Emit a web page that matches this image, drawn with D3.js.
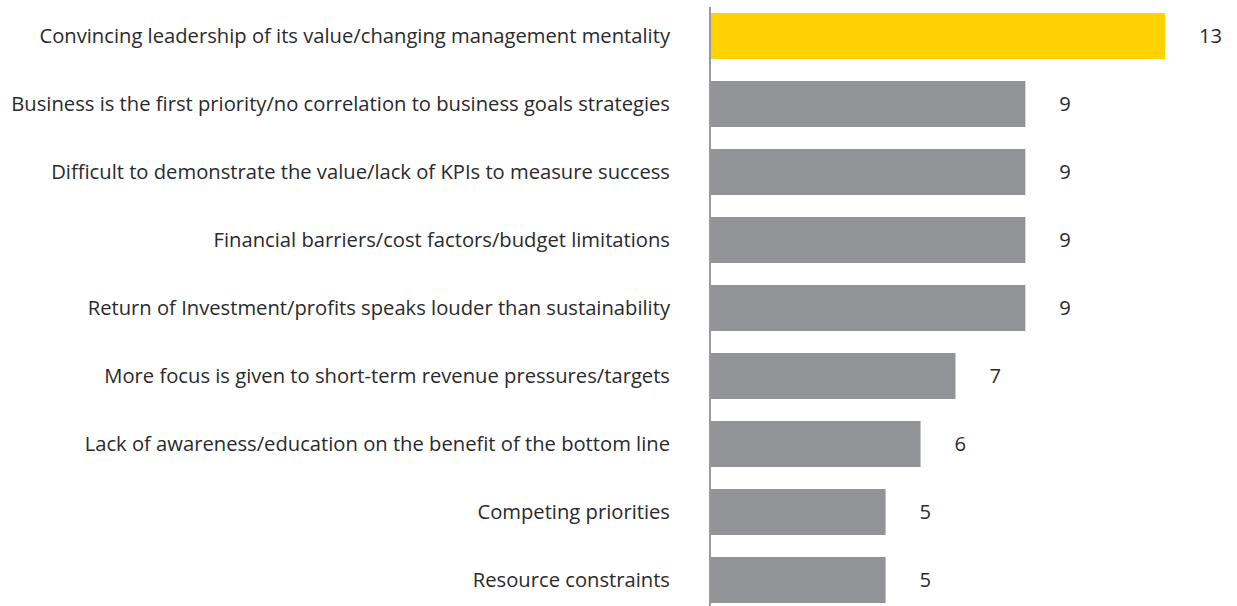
<!DOCTYPE html>
<html><head><meta charset="utf-8">
<script src="https://cdn.jsdelivr.net/npm/d3@7"></script>
<style>body{margin:0;background:#fff;} svg{display:block;}</style>
</head><body>
<svg id="chart" width="1237" height="606"></svg>
<script>
const categories = [
  "Convincing leadership of its value/changing management mentality",
  "Business is the first priority/no correlation to business goals strategies",
  "Difficult to demonstrate the value/lack of KPIs to measure success",
  "Financial barriers/cost factors/budget limitations",
  "Return of Investment/profits speaks louder than sustainability",
  "More focus is given to short-term revenue pressures/targets",
  "Lack of awareness/education on the benefit of the bottom line",
  "Competing priorities",
  "Resource constraints"
];
const values = [13, 9, 9, 9, 9, 7, 6, 5, 5];
const highlight = [true, false, false, false, false, false, false, false, false];

const svg = d3.select("#chart");
const x = d3.scaleLinear().domain([0, 13]).range([711, 1165]);
const y = d3.scaleBand().domain(categories).range([2, 614]).paddingInner(0.3235).paddingOuter(0.16175);
const font = "'Open Sans', sans-serif";

svg.selectAll("rect.bar").data(categories).join("rect")
  .attr("class","bar")
  .attr("x", x(0))
  .attr("y", d => y(d))
  .attr("width", (d,i) => x(values[i]) - x(0))
  .attr("height", y.bandwidth())
  .attr("fill", (d,i) => highlight[i] ? "#FFD200" : "#919396");

svg.append("line").attr("x1",710).attr("x2",710).attr("y1",7).attr("y2",606)
  .attr("stroke","#9a9a9a").attr("stroke-width",2);

svg.selectAll("text.cat").data(categories).join("text")
  .attr("class","cat")
  .attr("x", 670)
  .attr("y", d => y(d) + y.bandwidth()/2)
  .attr("dy","0.35em")
  .attr("text-anchor","end")
  .attr("font-family", font)
  .attr("font-size", 20.2)
  .attr("fill","#2a2a2e")
  .text(d => d);

svg.selectAll("text.val").data(categories).join("text")
  .attr("class","val")
  .attr("x", (d,i) => x(values[i]) + 34)
  .attr("y", d => y(d) + y.bandwidth()/2)
  .attr("dy","0.35em")
  .attr("font-family", font)
  .attr("font-size", 20.2)
  .attr("fill","#2a2a2e")
  .text((d,i) => values[i]);
</script>
</body></html>
